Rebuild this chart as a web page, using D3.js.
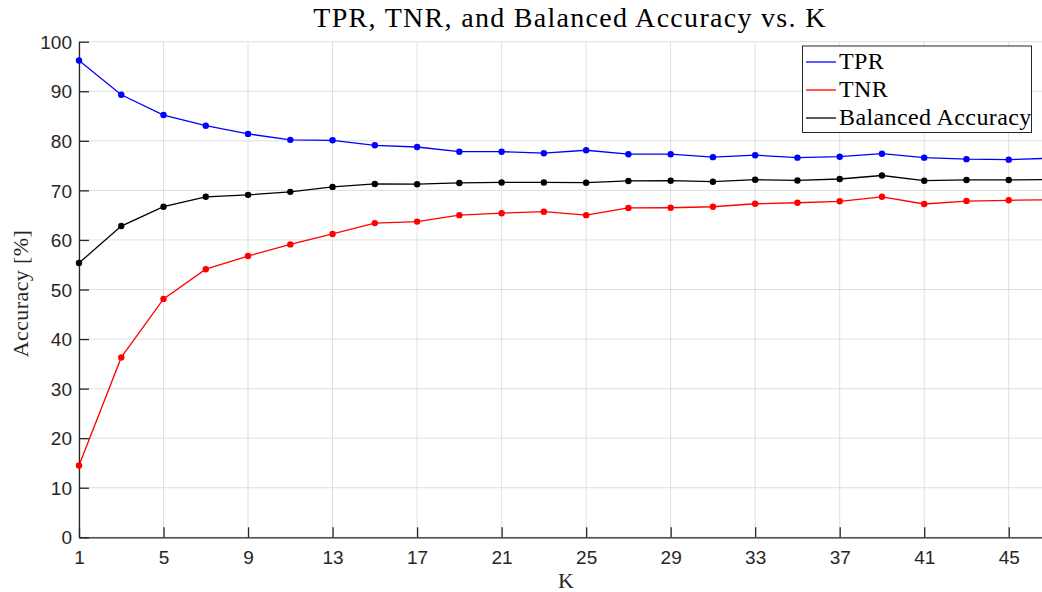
<!DOCTYPE html>
<html>
<head>
<meta charset="utf-8">
<script src="https://cdn.jsdelivr.net/npm/d3@7/dist/d3.min.js"></script>
<style>
  html, body { margin: 0; padding: 0; background: #fff; }
  svg { display: block; }
</style>
</head>
<body>
<svg id="chart" width="1042" height="592"></svg>
<script>
// Neighbour count K (odd values)
const kValues = [1, 3, 5, 7, 9, 11, 13, 15, 17, 19, 21, 23, 25, 27, 29, 31, 33, 35, 37, 39, 41, 43, 45, 47];

// True positive rate [%]
const tpr = [96.2, 89.3, 85.2, 83.05, 81.4, 80.2, 80.1, 79.1, 78.75, 77.8, 77.8, 77.5, 78.1, 77.3, 77.3,
             76.7, 77.1, 76.6, 76.8, 77.4, 76.6, 76.3, 76.2, 76.5];

// True negative rate [%]
const tnr = [14.5, 36.3, 48.1, 54.1, 56.75, 59.1, 61.2, 63.4, 63.7, 65.0, 65.4, 65.7, 65.0, 66.45, 66.5,
             66.7, 67.3, 67.5, 67.8, 68.7, 67.25, 67.85, 68.0, 68.1];

// Balanced accuracy [%]
const balAcc = [55.35, 62.8, 66.7, 68.7, 69.1, 69.7, 70.7, 71.3, 71.25, 71.5, 71.6, 71.6, 71.55, 71.9, 71.95,
                71.75, 72.15, 72.0, 72.3, 73.0, 71.95, 72.1, 72.1, 72.2];

const xTicks = [1, 5, 9, 13, 17, 21, 25, 29, 33, 37, 41, 45];
const yTicks = [0, 10, 20, 30, 40, 50, 60, 70, 80, 90, 100];

const seriesNames = ["TPR", "TNR", "Balanced Accuracy"];
const seriesColors = ["#0000ff", "#ff0000", "#000000"];
const seriesValues = [tpr, tnr, balAcc];

const svg = d3.select("#chart");
const plot = { left: 79, right: 1051, top: 41.7, bottom: 537.3 };

const x = d3.scaleLinear().domain([1, 47]).range([plot.left, plot.right]);
const y = d3.scaleLinear().domain([0, 100]).range([plot.bottom, plot.top]);

const sansFont = "'Liberation Sans', Arial, sans-serif";
const serifFont = "'Liberation Serif', 'DejaVu Serif', serif";
const axisColor = "#262626";

// Grid
const grid = svg.append("g");
grid.selectAll("line.gx").data(xTicks).join("line")
  .attr("x1", d => x(d)).attr("x2", d => x(d))
  .attr("y1", plot.top).attr("y2", plot.bottom)
  .attr("stroke", "#dfdfdf").attr("stroke-width", 1);
grid.selectAll("line.gy").data(yTicks).join("line")
  .attr("x1", plot.left).attr("x2", plot.right)
  .attr("y1", d => y(d)).attr("y2", d => y(d))
  .attr("stroke", "#dfdfdf").attr("stroke-width", 1);

// Axes (ticks point inward)
const xAxis = d3.axisBottom(x).tickValues(xTicks).tickSizeInner(-10).tickSizeOuter(0).tickPadding(13);
const yAxis = d3.axisLeft(y).tickValues(yTicks).tickSizeInner(-10).tickSizeOuter(0).tickPadding(7);

const gx = svg.append("g").attr("transform", `translate(0,${plot.bottom})`).call(xAxis);
const gy = svg.append("g").attr("transform", `translate(${plot.left},0)`).call(yAxis);

[gx, gy].forEach(g => {
  g.select(".domain").attr("stroke", axisColor).attr("stroke-width", 1.3);
  g.selectAll(".tick line").attr("stroke", axisColor).attr("stroke-width", 1.3);
  g.selectAll(".tick text").attr("fill", axisColor)
    .style("font-family", sansFont).style("font-size", "19px");
});
gx.selectAll(".tick text").attr("dy", "0.71em");
gy.selectAll(".tick text").attr("dy", "0.35em");

// Series lines and markers
const line = d3.line().x((d, i) => x(kValues[i])).y(d => y(d));
seriesValues.forEach((vals, s) => {
  svg.append("path")
    .datum(vals)
    .attr("d", line)
    .attr("fill", "none")
    .attr("stroke", seriesColors[s])
    .attr("stroke-width", 1.3);
  svg.append("g").selectAll("circle").data(vals).join("circle")
    .attr("cx", (d, i) => x(kValues[i]))
    .attr("cy", d => y(d))
    .attr("r", 3.2)
    .attr("fill", seriesColors[s]);
});

// Title and axis labels
svg.append("text")
  .attr("x", 570).attr("y", 27)
  .attr("text-anchor", "middle")
  .style("font-family", serifFont).style("font-size", "28px")
  .style("letter-spacing", "1.3px").attr("fill", "#000")
  .text("TPR, TNR, and Balanced Accuracy vs. K");

svg.append("text")
  .attr("x", 566).attr("y", 588)
  .attr("text-anchor", "middle")
  .style("font-family", serifFont).style("font-size", "22px").attr("fill", axisColor)
  .text("K");

svg.append("text")
  .attr("transform", `translate(28,${(plot.top + plot.bottom) / 2 + 4}) rotate(-90)`)
  .attr("text-anchor", "middle")
  .style("font-family", serifFont).style("font-size", "22px")
  .style("letter-spacing", "0.4px").attr("fill", axisColor)
  .text("Accuracy [%]");

// Legend
const legend = svg.append("g");
legend.append("rect")
  .attr("x", 802.5).attr("y", 46).attr("width", 229).attr("height", 86.5)
  .attr("fill", "#fff").attr("stroke", "#262626").attr("stroke-width", 1);
seriesNames.forEach((name, i) => {
  const ly = 62 + i * 28;
  legend.append("line")
    .attr("x1", 806).attr("x2", 836).attr("y1", ly).attr("y2", ly)
    .attr("stroke", seriesColors[i]).attr("stroke-width", 1.3);
  legend.append("text")
    .attr("x", 839).attr("y", ly + 7)
    .style("font-family", serifFont).style("font-size", "24px")
    .style("letter-spacing", "0.4px").attr("fill", "#000")
    .text(name);
});
</script>
</body>
</html>
